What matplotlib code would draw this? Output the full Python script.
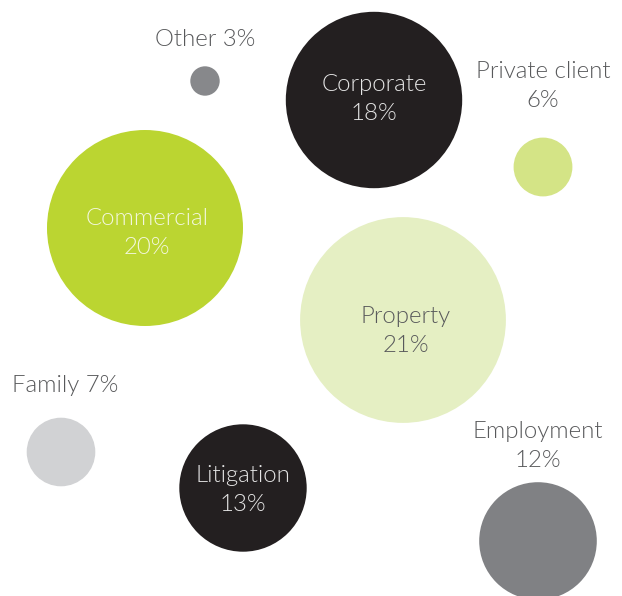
import matplotlib.pyplot as plt
from matplotlib.patches import Circle

# practice areas and their share
areas = ["Other", "Corporate", "Private client", "Commercial", "Property",
         "Family", "Litigation", "Employment"]
shares = [3, 18, 6, 20, 21, 7, 13, 12]

# layout (pixel positions of bubble centres and labels)
centres = [(205, 81), (374, 100), (543, 167), (145, 228), (403, 320),
           (61, 452), (243, 488), (538, 541)]
fills = ["#87888b", "#231f20", "#d4e486", "#bbd531", "#e5efc3",
         "#d1d2d4", "#231f20", "#808184"]
# (x, y, one_line)
label_pos = [(205, 38, True), (374, 97.5, False), (543, 84.5, False),
             (147, 231.5, False), (406, 329.5, False), (65, 384, True),
             (243, 488.5, False), (538, 444.5, False)]
label_col = ["#58595b", "#e6e6e6", "#58595b", "#f3f7df", "#58595b",
             "#58595b", "#e6e6e6", "#58595b"]
scale = 4.9  # px of radius per percent

plt.rcParams["font.family"] = ["Lato", "DejaVu Sans"]
fig = plt.figure(figsize=(6.22, 5.96), dpi=100)
ax = fig.add_axes([0, 0, 1, 1])
ax.set_xlim(0, 622)
ax.set_ylim(596, 0)
ax.set_aspect("equal")
ax.axis("off")

fs = 17.3
gap = 14.5
for name, pct, (cx, cy), col, (x, y, one), tc in zip(areas, shares, centres, fills,
                                                     label_pos, label_col):
    ax.add_patch(Circle((cx, cy), pct * scale, color=col, lw=0))
    y = y + 1.5
    if one:
        ax.text(x, y, f"{name} {pct}%", ha="center", va="center",
                fontsize=fs, color=tc, fontweight=300)
    else:
        ax.text(x, y - gap, name, ha="center", va="center",
                fontsize=fs, color=tc, fontweight=300)
        ax.text(x, y + gap, f"{pct}%", ha="center", va="center",
                fontsize=fs, color=tc, fontweight=300)

plt.savefig("out.png", dpi=100)
